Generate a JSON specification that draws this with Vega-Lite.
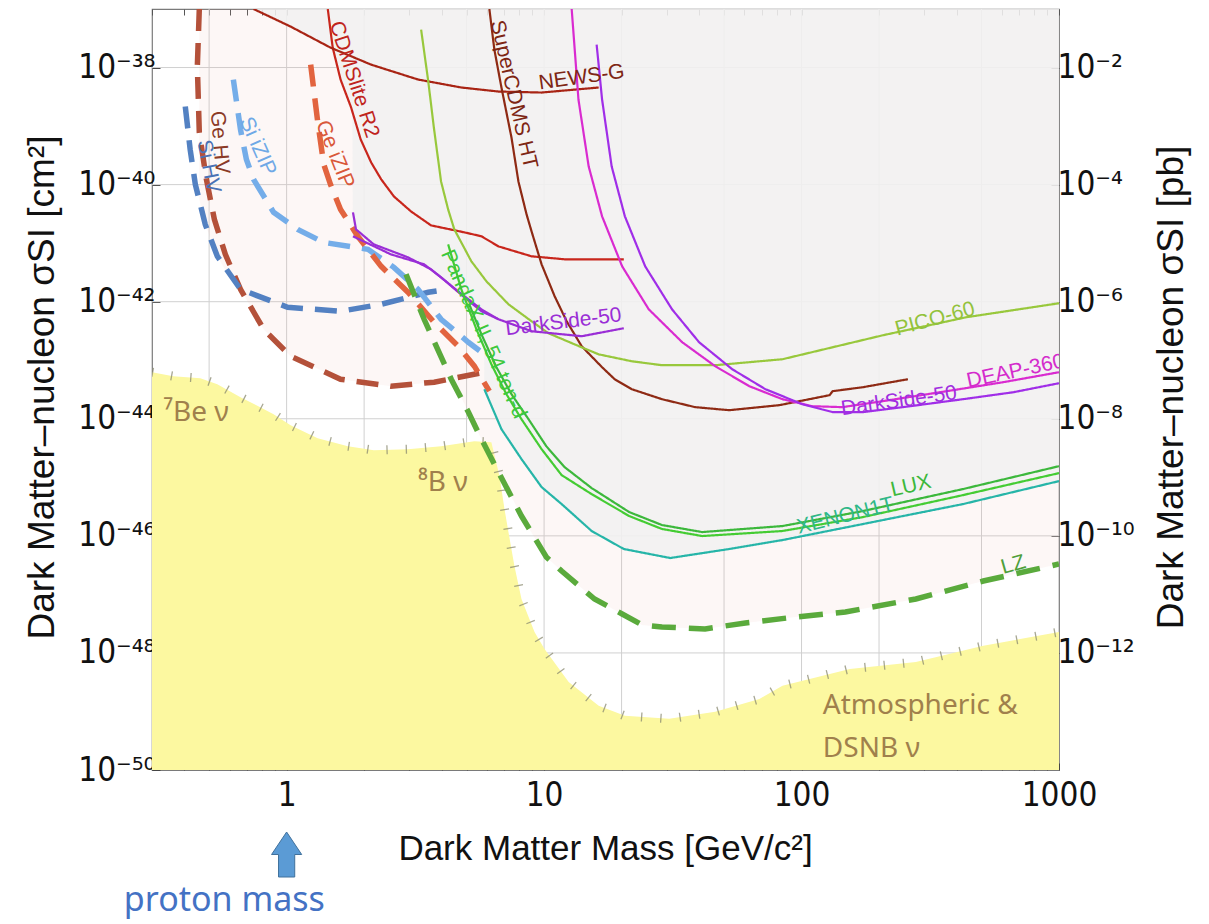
{
"$schema": "https://vega.github.io/schema/vega-lite/v6.json",
"width": 907, "height": 761,
"autosize": {"type": "none"},
"padding": {"left": 152, "top": 9, "right": 150, "bottom": 154},
"background": "white",
"config": {"view": {"stroke": "#7a7a7a", "strokeWidth": 1.2}, "axis": {"labelFont": "DejaVu Sans Condensed", "titleFont": "Liberation Sans", "titleFontWeight": "normal", "labelColor": "#111", "titleColor": "#111", "domain": false, "grid": false}},
"datasets": {
"curves": [
{"c":"GeHV","m":0.458,"s":1e-37},{"c":"GeHV","m":0.45,"s":1.04e-38},{"c":"GeHV","m":0.458,"s":7.78e-40},{"c":"GeHV","m":0.488,"s":1.23e-40},{"c":"GeHV","m":0.524,"s":2.55e-41},{"c":"GeHV","m":0.578,"s":6.44e-42},{"c":"GeHV","m":0.662,"s":1.63e-42},{"c":"GeHV","m":0.814,"s":3.38e-43},{"c":"GeHV","m":1.036,"s":1.17e-43},{"c":"GeHV","m":1.62,"s":4.74e-44},{"c":"GeHV","m":2.54,"s":3.6e-44},{"c":"GeHV","m":3.74,"s":4.22e-44},{"c":"GeHV","m":5.86,"s":6.24e-44},
{"c":"SiHV","m":0.404,"s":2.16e-39},{"c":"SiHV","m":0.422,"s":3.99e-40},{"c":"SiHV","m":0.442,"s":1.01e-40},{"c":"SiHV","m":0.483,"s":2.09e-41},{"c":"SiHV","m":0.538,"s":5.96e-42},{"c":"SiHV","m":0.662,"s":1.63e-42},{"c":"SiHV","m":1.009,"s":8.02e-43},{"c":"SiHV","m":1.62,"s":6.86e-43},{"c":"SiHV","m":2.33,"s":9.04e-43},{"c":"SiHV","m":3.55,"s":1.45e-42},{"c":"SiHV","m":3.98,"s":1.57e-42},
{"c":"SiiZIP","m":0.621,"s":6.24e-39},{"c":"SiiZIP","m":0.662,"s":8.75e-40},{"c":"SiiZIP","m":0.698,"s":2.69e-40},{"c":"SiiZIP","m":0.744,"s":1.23e-40},{"c":"SiiZIP","m":0.89,"s":3.36e-41},{"c":"SiiZIP","m":1.104,"s":1.72e-41},{"c":"SiiZIP","m":1.394,"s":1.03e-41},{"c":"SiiZIP","m":2.07,"s":7.84e-42},{"c":"SiiZIP","m":2.61,"s":3.86e-42},{"c":"SiiZIP","m":3.24,"s":1.63e-42},{"c":"SiiZIP","m":3.98,"s":5.01e-43},{"c":"SiiZIP","m":5.08,"s":2.03e-43},{"c":"SiiZIP","m":5.86,"s":1.26e-43},
{"c":"GeiZIP","m":1.24,"s":1.12e-38},{"c":"GeiZIP","m":1.32,"s":1.2e-39},{"c":"GeiZIP","m":1.394,"s":2.21e-40},{"c":"GeiZIP","m":1.48,"s":1.01e-40},{"c":"GeiZIP","m":1.62,"s":3.77e-41},{"c":"GeiZIP","m":1.89,"s":1.31e-41},{"c":"GeiZIP","m":2.33,"s":4.02e-42},{"c":"GeiZIP","m":2.96,"s":1.45e-42},{"c":"GeiZIP","m":3.74,"s":4.45e-43},{"c":"GeiZIP","m":4.64,"s":1.73e-43},{"c":"GeiZIP","m":5.36,"s":7.91e-44},{"c":"GeiZIP","m":6.13,"s":2.96e-44},
{"c":"LZ","m":2.91,"s":2.94e-42},{"c":"LZ","m":3.42,"s":5.01e-43},{"c":"LZ","m":4.36,"s":4.74e-44},{"c":"LZ","m":5.08,"s":1.3e-44},{"c":"LZ","m":5.71,"s":4.49e-45},{"c":"LZ","m":6.65,"s":1.23e-45},{"c":"LZ","m":8.17,"s":2.18e-46},{"c":"LZ","m":10.2,"s":4.35e-47},{"c":"LZ","m":11.7,"s":2.51e-47},{"c":"LZ","m":15.7,"s":8.34e-48},{"c":"LZ","m":20.1,"s":4.63e-48},{"c":"LZ","m":24,"s":3.01e-48},{"c":"LZ","m":28.7,"s":2.78e-48},{"c":"LZ","m":42.2,"s":2.57e-48},{"c":"LZ","m":60.5,"s":3.25e-48},{"c":"LZ","m":94.8,"s":4.11e-48},{"c":"LZ","m":148,"s":5.01e-48},{"c":"LZ","m":278,"s":8.34e-48},{"c":"LZ","m":508,"s":1.69e-47},{"c":"LZ","m":1000,"s":3.3e-47},
{"c":"CDMSlite","m":1.445,"s":1e-37},{"c":"CDMSlite","m":1.51,"s":2.19e-38},{"c":"CDMSlite","m":1.62,"s":6.24e-39},{"c":"CDMSlite","m":1.78,"s":2.08e-39},{"c":"CDMSlite","m":1.94,"s":5.9e-40},{"c":"CDMSlite","m":2.13,"s":2.39e-40},{"c":"CDMSlite","m":2.33,"s":1.23e-40},{"c":"CDMSlite","m":2.61,"s":6.29e-41},{"c":"CDMSlite","m":3.04,"s":3.49e-41},{"c":"CDMSlite","m":3.64,"s":2.01e-41},{"c":"CDMSlite","m":4.9,"s":1.53e-41},{"c":"CDMSlite","m":5.71,"s":1.31e-41},{"c":"CDMSlite","m":6.65,"s":8.81e-42},{"c":"CDMSlite","m":8.94,"s":5.96e-42},{"c":"CDMSlite","m":12.02,"s":5.3e-42},{"c":"CDMSlite","m":20.4,"s":5.3e-42},
{"c":"NEWSG","m":0.744,"s":1e-37},{"c":"NEWSG","m":1.036,"s":5.01e-38},{"c":"NEWSG","m":1.48,"s":2.19e-38},{"c":"NEWSG","m":2.13,"s":1.12e-38},{"c":"NEWSG","m":3.24,"s":6.24e-39},{"c":"NEWSG","m":4.77,"s":4.56e-39},{"c":"NEWSG","m":6.65,"s":3.89e-39},{"c":"NEWSG","m":9.78,"s":3.74e-39},{"c":"NEWSG","m":16.3,"s":4.56e-39},
{"c":"SCDMSHT","m":6.13,"s":1e-37},{"c":"SCDMSHT","m":6.41,"s":2.03e-38},{"c":"SCDMSHT","m":6.83,"s":4.56e-39},{"c":"SCDMSHT","m":7.47,"s":6.39e-40},{"c":"SCDMSHT","m":7.95,"s":1.13e-40},{"c":"SCDMSHT","m":8.55,"s":3.1e-41},{"c":"SCDMSHT","m":8.94,"s":1.59e-41},{"c":"SCDMSHT","m":9.78,"s":4.35e-42},{"c":"SCDMSHT","m":10.99,"s":1.24e-42},{"c":"SCDMSHT","m":12.24,"s":4.63e-43},{"c":"SCDMSHT","m":14,"s":1.73e-43},{"c":"SCDMSHT","m":16.8,"s":7.59e-44},{"c":"SCDMSHT","m":18.8,"s":4.74e-44},{"c":"SCDMSHT","m":21.9,"s":3.2e-44},{"c":"SCDMSHT","m":28.7,"s":2.16e-44},{"c":"SCDMSHT","m":38.6,"s":1.58e-44},{"c":"SCDMSHT","m":52.4,"s":1.4e-44},{"c":"SCDMSHT","m":82.1,"s":1.71e-44},{"c":"SCDMSHT","m":128.5,"s":2.53e-44},{"c":"SCDMSHT","m":132,"s":2.96e-44},{"c":"SCDMSHT","m":173,"s":3.46e-44},{"c":"SCDMSHT","m":259,"s":4.74e-44},
{"c":"PICO","m":3.33,"s":4.45e-38},{"c":"PICO","m":3.55,"s":5.77e-39},{"c":"PICO","m":3.74,"s":8.75e-40},{"c":"PICO","m":3.98,"s":1.13e-40},{"c":"PICO","m":4.24,"s":3.77e-41},{"c":"PICO","m":4.48,"s":1.72e-41},{"c":"PICO","m":5.22,"s":4.89e-42},{"c":"PICO","m":5.97,"s":2.23e-42},{"c":"PICO","m":7.27,"s":9.04e-43},{"c":"PICO","m":8.94,"s":4.63e-43},{"c":"PICO","m":10.4,"s":2.89e-43},{"c":"PICO","m":13.4,"s":1.8e-43},{"c":"PICO","m":16.3,"s":1.26e-43},{"c":"PICO","m":21.9,"s":9.61e-44},{"c":"PICO","m":28.7,"s":8.22e-44},{"c":"PICO","m":46.2,"s":8.22e-44},{"c":"PICO","m":84.3,"s":1.04e-43},{"c":"PICO","m":207,"s":2.67e-43},{"c":"PICO","m":436,"s":5.42e-43},{"c":"PICO","m":1000,"s":9.4e-43},
{"c":"DS50LA","m":1.81,"s":3.36e-41},{"c":"DS50LA","m":1.86,"s":1.72e-41},{"c":"DS50LA","m":2.18,"s":9.54e-42},{"c":"DS50LA","m":2.96,"s":5.73e-42},{"c":"DS50LA","m":3.64,"s":3.57e-42},{"c":"DS50LA","m":4.64,"s":1.5e-42},{"c":"DS50LA","m":5.71,"s":7.41e-43},{"c":"DS50LA","m":6.65,"s":5.01e-43},{"c":"DS50LA","m":8.94,"s":3.13e-43},{"c":"DS50LA","m":14,"s":2.57e-43},{"c":"DS50LA","m":20.4,"s":3.52e-43},
{"c":"DS50LB","m":1.81,"s":1.31e-41},{"c":"DS50LB","m":2.54,"s":6.44e-42},{"c":"DS50LB","m":3.42,"s":4.35e-42},{"c":"DS50LB","m":3.98,"s":2.61e-42},{"c":"DS50LB","m":4.9,"s":1.19e-42},{"c":"DS50LB","m":5.71,"s":6.86e-43},{"c":"DS50LB","m":6.65,"s":5.01e-43},
{"c":"DEAP","m":12.8,"s":1e-37},{"c":"DEAP","m":13.6,"s":2.84e-39},{"c":"DEAP","m":14.9,"s":2.05e-40},{"c":"DEAP","m":16.8,"s":2.87e-41},{"c":"DEAP","m":20.1,"s":4.02e-42},{"c":"DEAP","m":25.5,"s":7.41e-43},{"c":"DEAP","m":34.4,"s":2.03e-43},{"c":"DEAP","m":46.2,"s":7.91e-44},{"c":"DEAP","m":62.7,"s":3.6e-44},{"c":"DEAP","m":84.3,"s":2.16e-44},{"c":"DEAP","m":110,"s":1.64e-44},{"c":"DEAP","m":144,"s":1.58e-44},{"c":"DEAP","m":207,"s":2e-44},{"c":"DEAP","m":388,"s":3.08e-44},{"c":"DEAP","m":608,"s":4.22e-44},{"c":"DEAP","m":1000,"s":6.24e-44},
{"c":"DS50H","m":16,"s":2.47e-38},{"c":"DS50H","m":16.8,"s":2.84e-39},{"c":"DS50H","m":18.3,"s":2.05e-40},{"c":"DS50H","m":20.6,"s":2.87e-41},{"c":"DS50H","m":24.7,"s":4.02e-42},{"c":"DS50H","m":31.4,"s":7.41e-43},{"c":"DS50H","m":40,"s":2.03e-43},{"c":"DS50H","m":53.8,"s":7.02e-44},{"c":"DS50H","m":72.4,"s":3.2e-44},{"c":"DS50H","m":100.9,"s":1.77e-44},{"c":"DS50H","m":132,"s":1.3e-44},{"c":"DS50H","m":173,"s":1.3e-44},{"c":"DS50H","m":248,"s":1.58e-44},{"c":"DS50H","m":424,"s":2.16e-44},{"c":"DS50H","m":665,"s":2.84e-44},{"c":"DS50H","m":1000,"s":4.05e-44},
{"c":"PandaX","m":4.24,"s":9.54e-42},{"c":"PandaX","m":4.77,"s":1.63e-42},{"c":"PandaX","m":5.46,"s":3.38e-43},{"c":"PandaX","m":6.24,"s":8.55e-44},{"c":"PandaX","m":7.14,"s":2.63e-44},{"c":"PandaX","m":8.17,"s":9.84e-45},{"c":"PandaX","m":9.78,"s":3.03e-45},{"c":"PandaX","m":11.7,"s":1.09e-45},{"c":"PandaX","m":15.3,"s":5.16e-46},{"c":"PandaX","m":21.4,"s":2.18e-46},{"c":"PandaX","m":28.7,"s":1.31e-46},{"c":"PandaX","m":41.1,"s":9.93e-47},{"c":"PandaX","m":84.3,"s":1.21e-46},{"c":"PandaX","m":173,"s":2.09e-46},{"c":"PandaX","m":424,"s":4.97e-46},{"c":"PandaX","m":1000,"s":1.18e-45},
{"c":"LUX","m":5.12,"s":9.04e-43},{"c":"LUX","m":5.71,"s":2.78e-43},{"c":"LUX","m":6.53,"s":7.59e-44},{"c":"LUX","m":7.47,"s":2.63e-44},{"c":"LUX","m":8.7,"s":9.84e-45},{"c":"LUX","m":10.2,"s":3.4e-45},{"c":"LUX","m":12.02,"s":1.49e-45},{"c":"LUX","m":15.3,"s":6.55e-46},{"c":"LUX","m":21.4,"s":2.55e-46},{"c":"LUX","m":28.7,"s":1.53e-46},{"c":"LUX","m":41.1,"s":1.16e-46},{"c":"LUX","m":84.3,"s":1.47e-46},{"c":"LUX","m":173,"s":2.65e-46},{"c":"LUX","m":424,"s":6.3e-46},{"c":"LUX","m":1000,"s":1.55e-45},
{"c":"XENON1T","m":5.86,"s":3.2e-44},{"c":"XENON1T","m":6.83,"s":6.64e-45},{"c":"XENON1T","m":8.17,"s":2.05e-45},{"c":"XENON1T","m":9.78,"s":6.81e-46},{"c":"XENON1T","m":11.7,"s":3.49e-46},{"c":"XENON1T","m":15.3,"s":1.21e-46},{"c":"XENON1T","m":20.4,"s":5.96e-47},{"c":"XENON1T","m":30.9,"s":4.18e-47},{"c":"XENON1T","m":52.4,"s":5.96e-47},{"c":"XENON1T","m":84.3,"s":8.47e-47},{"c":"XENON1T","m":173,"s":1.59e-46},{"c":"XENON1T","m":424,"s":3.49e-46},{"c":"XENON1T","m":1000,"s":8.61e-46}
],
"floor": [{"m":0.3,"s":6.24e-44},{"m":0.363,"s":5.33e-44},{"m":0.462,"s":4.93e-44},{"m":0.538,"s":3.89e-44},{"m":0.662,"s":2.34e-44},{"m":0.89,"s":1.2e-44},{"m":1.036,"s":7.78e-45},{"m":1.32,"s":4.67e-45},{"m":1.73,"s":3.4e-45},{"m":2.18,"s":2.91e-45},{"m":2.96,"s":3.03e-45},{"m":3.98,"s":3.4e-45},{"m":5.36,"s":4.15e-45},{"m":6.24,"s":3.99e-45},{"m":6.71,"s":1.05e-45},{"m":7.02,"s":2.86e-46},{"m":7.27,"s":1.16e-46},{"m":7.67,"s":3.05e-47},{"m":8.17,"s":8.34e-48},{"m":9.18,"s":2.28e-48},{"m":10.04,"s":1.17e-48},{"m":12.46,"s":3.2e-49},{"m":16.3,"s":1.25e-49},{"m":20.6,"s":8.41e-50},{"m":30.6,"s":7.48e-50},{"m":46.2,"s":9.84e-50},{"m":68.6,"s":1.64e-49},{"m":84.3,"s":2.74e-49},{"m":154,"s":5.33e-49},{"m":278,"s":7.02e-49},{"m":508,"s":1.32e-48},{"m":1000,"s":2.28e-48}],
"pink": [{"m":0.458,"s":5.59e-41},{"m":0.483,"s":2.09e-41},{"m":0.538,"s":5.96e-42},{"m":0.594,"s":2.82e-42},{"m":0.662,"s":1.63e-42},{"m":0.814,"s":3.38e-43},{"m":1.036,"s":1.17e-43},{"m":1.62,"s":4.74e-44},{"m":2.54,"s":3.6e-44},{"m":3.74,"s":4.22e-44},{"m":4.4,"s":4.74e-44},{"m":5.08,"s":1.3e-44},{"m":5.71,"s":4.49e-45},{"m":6.65,"s":1.23e-45},{"m":8.17,"s":2.18e-46},{"m":10.2,"s":4.35e-47},{"m":11.7,"s":2.51e-47},{"m":15.7,"s":8.34e-48},{"m":20.1,"s":4.63e-48},{"m":24,"s":3.01e-48},{"m":28.7,"s":2.78e-48},{"m":42.2,"s":2.57e-48},{"m":60.5,"s":3.25e-48},{"m":94.8,"s":4.11e-48},{"m":148,"s":5.01e-48},{"m":278,"s":8.34e-48},{"m":508,"s":1.69e-47},{"m":1000,"s":3.3e-47}],
"gray": [{"m":0.744,"s":1e-37},{"m":1.036,"s":5.01e-38},{"m":1.48,"s":2.19e-38},{"m":1.62,"s":6.24e-39},{"m":1.78,"s":2.08e-39},{"m":1.8,"s":1.8e-39},{"m":1.81,"s":1.31e-41},{"m":2.54,"s":6.44e-42},{"m":3.42,"s":4.35e-42},{"m":3.98,"s":2.61e-42},{"m":4.9,"s":1.19e-42},{"m":5.46,"s":3.38e-43},{"m":5.85,"s":1.67e-43},{"m":5.86,"s":3.2e-44},{"m":6.83,"s":6.64e-45},{"m":8.17,"s":2.05e-45},{"m":9.78,"s":6.81e-46},{"m":11.7,"s":3.49e-46},{"m":15.3,"s":1.21e-46},{"m":20.4,"s":5.96e-47},{"m":30.9,"s":4.18e-47},{"m":52.4,"s":5.96e-47},{"m":84.3,"s":8.47e-47},{"m":173,"s":1.59e-46},{"m":424,"s":3.49e-46},{"m":1000,"s":8.61e-46}]
},
"layer": [
{"layer": [
 {"data": {"values": [{"m":0.5},{"m":1},{"m":2},{"m":5},{"m":10},{"m":20},{"m":50},{"m":100},{"m":200},{"m":500}]},
  "mark": {"type": "rule", "color": "#d0d0d0", "strokeWidth": 1},
  "encoding": {"x": {"field": "m", "type": "quantitative"}}},
 {"data": {"values": [{"s":1e-48},{"s":1e-46},{"s":1e-44},{"s":1e-42},{"s":1e-40},{"s":1e-38}]},
  "mark": {"type": "rule", "color": "#d0d0d0", "strokeWidth": 1},
  "encoding": {"y": {"field": "s", "type": "quantitative"}}},
 {"data": {"name": "pink"}, "mark": {"type": "area", "color": "#e9b4ab", "opacity": 0.1, "clip": true},
  "encoding": {"x": {"field": "m", "type": "quantitative"}, "y": {"field": "s", "type": "quantitative"}, "y2": {"datum": 1e-37}}},
 {"data": {"name": "gray"}, "mark": {"type": "area", "color": "#f1f1f1", "opacity": 0.88, "clip": true},
  "encoding": {"x": {"field": "m", "type": "quantitative"}, "y": {"field": "s", "type": "quantitative"}, "y2": {"datum": 1e-37}}},
 {"data": {"name": "floor"}, "mark": {"type": "area", "color": "#fcf8a0", "opacity": 1, "clip": true},
  "encoding": {
   "x": {"field": "m", "type": "quantitative", "scale": {"type": "log", "domain": [0.3, 1000], "nice": false},
    "axis": {"orient": "bottom", "values": [0.3,0.4,0.5,0.6,0.7,0.8,0.9,1,2,3,4,5,6,7,8,9,10,20,30,40,50,60,70,80,90,100,200,300,400,500,600,700,800,900,1000],
     "labelExpr": "indexof([1,10,100,1000], datum.value) >= 0 ? format(datum.value, 'd') : ''",
     "labelFlush": false, "labelOverlap": false, "labelFontSize": 33, "labelPadding": 16, "tickSize": -7, "tickColor": "#444",
     "title": "Dark Matter Mass [GeV/c²]", "titleFontSize": 35, "titleX": 453, "titleY": 89, "titleBaseline": "alphabetic", "titleAlign": "center"}},
   "y": {"field": "s", "type": "quantitative", "scale": {"type": "log", "domain": [1e-50, 1e-37], "nice": false},
    "axis": {"orient": "left", "values": [1e-50,1e-48,1e-46,1e-44,1e-42,1e-40,1e-38],
     "labelExpr": "'10⁻' + substring('⁰¹²³⁴⁵⁶⁷⁸⁹', floor(-round(log(datum.value)/LN10)/10), floor(-round(log(datum.value)/LN10)/10)+1) + substring('⁰¹²³⁴⁵⁶⁷⁸⁹', (-round(log(datum.value)/LN10))%10, (-round(log(datum.value)/LN10))%10+1)",
     "labelFontSize": 33, "labelPadding": 5, "tickSize": -8, "tickColor": "#444", "labelOverlap": false, "labelFlush": false,
     "title": "Dark Matter–nucleon σSI [cm²]", "titleFontSize": 37, "titleAngle": -90, "titleX": -99, "titleY": 378, "titleBaseline": "alphabetic", "titleAlign": "center"}},
   "y2": {"datum": 1e-50}}},
 {"data": {"name": "floor"}, "mark": {"type": "line", "color": "#8a8a70", "strokeWidth": 9, "strokeDash": [1.3, 18], "opacity": 0.75, "clip": true},
  "encoding": {"x": {"field": "m", "type": "quantitative"}, "y": {"field": "s", "type": "quantitative"}}},
 {"data": {"name": "curves"}, "mark": {"type": "line", "clip": true},
  "encoding": {"x": {"field": "m", "type": "quantitative"}, "y": {"field": "s", "type": "quantitative"},
   "color": {"field": "c", "type": "nominal", "legend": null, "scale": {"domain": ["GeHV","SiHV","SiiZIP","GeiZIP","LZ","CDMSlite","NEWSG","SCDMSHT","PICO","DS50LA","DS50LB","DEAP","DS50H","PandaX","LUX","XENON1T"], "range": ["#b4513a","#5381c2","#74ade9","#e2643f","#5aaa3c","#c8261c","#a82414","#8e2a14","#98c83c","#9a2ed6","#9a2ed6","#d92bd0","#a02ee8","#44cc33","#3cb83c","#26b5a8"]}},
   "strokeDash": {"field": "c", "type": "nominal", "legend": null, "scale": {"domain": ["GeHV","SiHV","SiiZIP","GeiZIP","LZ","CDMSlite","NEWSG","SCDMSHT","PICO","DS50LA","DS50LB","DEAP","DS50H","PandaX","LUX","XENON1T"], "range": [[22,12],[22,12],[22,12],[22,12],[24,13],[1,0],[1,0],[1,0],[1,0],[1,0],[1,0],[1,0],[1,0],[1,0],[1,0],[1,0]]}},
   "strokeWidth": {"condition": {"test": "indexof(['GeHV','SiHV','SiiZIP','GeiZIP','LZ'], datum.c) >= 0", "value": 5.5}, "value": 2.2},
   "order": {"value": null}}},
 {"data": {"values": [{"m":0.548,"s":5.25e-40,"t":"Ge HV"}]}, "mark": {"type": "text", "angle": 85, "color": "#8b3a26", "font": "Liberation Sans", "fontSize": 21, "align": "center", "baseline": "middle"}, "encoding": {"x": {"field": "m", "type": "quantitative"}, "y": {"field": "s", "type": "quantitative"}, "text": {"field": "t"}}},
 {"data": {"values": [{"m":0.497,"s":2.05e-40,"t":"Si HV"}]}, "mark": {"type": "text", "angle": 79, "color": "#4a72b5", "font": "Liberation Sans", "fontSize": 21, "align": "center", "baseline": "middle"}, "encoding": {"x": {"field": "m", "type": "quantitative"}, "y": {"field": "s", "type": "quantitative"}, "text": {"field": "t"}}},
 {"data": {"values": [{"m":0.771,"s":4.49e-40,"t":"Si iZIP"}]}, "mark": {"type": "text", "angle": 66, "color": "#6fa8e6", "font": "Liberation Sans", "fontSize": 21, "align": "center", "baseline": "middle"}, "encoding": {"x": {"field": "m", "type": "quantitative"}, "y": {"field": "s", "type": "quantitative"}, "text": {"field": "t"}}},
 {"data": {"values": [{"m":1.538,"s":3.28e-40,"t":"Ge iZIP"}]}, "mark": {"type": "text", "angle": 68, "color": "#d9583a", "font": "Liberation Sans", "fontSize": 21, "align": "center", "baseline": "middle"}, "encoding": {"x": {"field": "m", "type": "quantitative"}, "y": {"field": "s", "type": "quantitative"}, "text": {"field": "t"}}},
 {"data": {"values": [{"m":1.825,"s":6.24e-39,"t":"CDMSlite R2"}]}, "mark": {"type": "text", "angle": 72, "color": "#c0241c", "font": "Liberation Sans", "fontSize": 21, "align": "center", "baseline": "middle"}, "encoding": {"x": {"field": "m", "type": "quantitative"}, "y": {"field": "s", "type": "quantitative"}, "text": {"field": "t"}}},
 {"data": {"values": [{"m":7.6,"s":3.46e-39,"t":"SuperCDMS HT"}]}, "mark": {"type": "text", "angle": 77, "color": "#7e2614", "font": "Liberation Sans", "fontSize": 21, "align": "center", "baseline": "middle"}, "encoding": {"x": {"field": "m", "type": "quantitative"}, "y": {"field": "s", "type": "quantitative"}, "text": {"field": "t"}}},
 {"data": {"values": [{"m":14,"s":6.75e-39,"t":"NEWS-G"}]}, "mark": {"type": "text", "angle": -8, "color": "#7e2614", "font": "Liberation Sans", "fontSize": 21, "align": "center", "baseline": "middle"}, "encoding": {"x": {"field": "m", "type": "quantitative"}, "y": {"field": "s", "type": "quantitative"}, "text": {"field": "t"}}},
 {"data": {"values": [{"m":330,"s":5.01e-43,"t":"PICO-60"}]}, "mark": {"type": "text", "angle": -15, "color": "#92c23c", "font": "Liberation Sans", "fontSize": 21, "align": "center", "baseline": "middle"}, "encoding": {"x": {"field": "m", "type": "quantitative"}, "y": {"field": "s", "type": "quantitative"}, "text": {"field": "t"}}},
 {"data": {"values": [{"m":11.9,"s":4.45e-43,"t":"DarkSide-50"}]}, "mark": {"type": "text", "angle": -7, "color": "#9a2ed6", "font": "Liberation Sans", "fontSize": 21, "align": "center", "baseline": "middle"}, "encoding": {"x": {"field": "m", "type": "quantitative"}, "y": {"field": "s", "type": "quantitative"}, "text": {"field": "t"}}},
 {"data": {"values": [{"m":239,"s":2.0e-44,"t":"DarkSide-50"}]}, "mark": {"type": "text", "angle": -8, "color": "#a02ee0", "font": "Liberation Sans", "fontSize": 21, "align": "center", "baseline": "middle"}, "encoding": {"x": {"field": "m", "type": "quantitative"}, "y": {"field": "s", "type": "quantitative"}, "text": {"field": "t"}}},
 {"data": {"values": [{"m":714,"s":6.75e-44,"t":"DEAP-3600"}]}, "mark": {"type": "text", "angle": -12, "color": "#d42bcc", "font": "Liberation Sans", "fontSize": 21, "align": "center", "baseline": "middle", "clip": true}, "encoding": {"x": {"field": "m", "type": "quantitative"}, "y": {"field": "s", "type": "quantitative"}, "text": {"field": "t"}}},
 {"data": {"values": [{"m":5.81,"s":2.78e-43,"t":"PandaX-II, 54 ton-d"}]}, "mark": {"type": "text", "angle": 66, "color": "#3cc83c", "font": "Liberation Sans", "fontSize": 21, "align": "center", "baseline": "middle"}, "encoding": {"x": {"field": "m", "type": "quantitative"}, "y": {"field": "s", "type": "quantitative"}, "text": {"field": "t"}}},
 {"data": {"values": [{"m":266,"s":7.08e-46,"t":"LUX"}]}, "mark": {"type": "text", "angle": -13, "color": "#3cb83c", "font": "Liberation Sans", "fontSize": 21, "align": "center", "baseline": "middle"}, "encoding": {"x": {"field": "m", "type": "quantitative"}, "y": {"field": "s", "type": "quantitative"}, "text": {"field": "t"}}},
 {"data": {"values": [{"m":148,"s":2.18e-46,"t":"XENON1T"}]}, "mark": {"type": "text", "angle": -14, "color": "#2fb888", "font": "Liberation Sans", "fontSize": 21, "align": "center", "baseline": "middle"}, "encoding": {"x": {"field": "m", "type": "quantitative"}, "y": {"field": "s", "type": "quantitative"}, "text": {"field": "t"}}},
 {"data": {"values": [{"m":665,"s":3.18e-47,"t":"LZ"}]}, "mark": {"type": "text", "angle": -16, "color": "#4f9f3a", "font": "Liberation Sans", "fontSize": 21, "align": "center", "baseline": "middle"}, "encoding": {"x": {"field": "m", "type": "quantitative"}, "y": {"field": "s", "type": "quantitative"}, "text": {"field": "t"}}},
 {"data": {"values": [{"m":0.3316,"s":9.1e-45,"t":"⁷Be ν"},{"m":3.24,"s":5.82e-46,"t":"⁸B ν"},{"m":121,"s":9.1e-50,"t":"Atmospheric &"},{"m":121,"s":1.68e-50,"t":"DSNB ν"}]}, "mark": {"type": "text", "color": "#a0804c", "font": "Noto Sans", "fontSize": 28, "align": "left", "baseline": "alphabetic"}, "encoding": {"x": {"field": "m", "type": "quantitative"}, "y": {"field": "s", "type": "quantitative"}, "text": {"field": "t"}}},
 {"data": {"values": [{"m":1,"s":3.6e-52}]}, "mark": {"type": "point", "shape": "M0,-1L0.67,0L0.36,0L0.36,1L-0.36,1L-0.36,0L-0.67,0Z", "filled": true, "size": 2025, "color": "#5b9bd5", "stroke": "#41719c", "strokeWidth": 1, "opacity": 1}, "encoding": {"x": {"field": "m", "type": "quantitative"}, "y": {"field": "s", "type": "quantitative"}}},
 {"data": {"values": [{"m":0.573,"s":3.95e-53,"t":"proton mass"}]}, "mark": {"type": "text", "color": "#4472c4", "font": "Noto Sans", "fontSize": 34, "align": "center", "baseline": "alphabetic"}, "encoding": {"x": {"field": "m", "type": "quantitative"}, "y": {"field": "s", "type": "quantitative"}, "text": {"field": "t"}}}
]},
{"data": {"values": [{"m": 1, "s": 1e-40}]},
 "mark": {"type": "point", "opacity": 0},
 "encoding": {
  "x": {"field": "m", "type": "quantitative", "scale": {"type": "log", "domain": [0.3, 1000], "nice": false},
   "axis": {"orient": "top", "values": [0.3,0.4,0.5,0.6,0.7,0.8,0.9,1,2,3,4,5,6,7,8,9,10,20,30,40,50,60,70,80,90,100,200,300,400,500,600,700,800,900,1000], "labels": false, "tickSize": -6, "tickColor": "#555", "title": null}},
  "y": {"field": "s", "type": "quantitative", "scale": {"type": "log", "domain": [1e-50, 1e-37], "nice": false},
   "axis": {"orient": "right", "values": [1e-48,1e-46,1e-44,1e-42,1e-40,1e-38],
    "labelExpr": "'10⁻' + ((-round(log(datum.value)/LN10)-36) >= 10 ? substring('⁰¹²³⁴⁵⁶⁷⁸⁹', floor((-round(log(datum.value)/LN10)-36)/10), floor((-round(log(datum.value)/LN10)-36)/10)+1) : '') + substring('⁰¹²³⁴⁵⁶⁷⁸⁹', (-round(log(datum.value)/LN10)-36)%10, (-round(log(datum.value)/LN10)-36)%10+1)",
    "labelFontSize": 33, "labelPadding": 6, "tickSize": -8, "tickColor": "#444", "labelOverlap": false, "labelFlush": false,
    "title": "Dark Matter–nucleon σSI [pb]", "titleFontSize": 37, "titleAngle": -90, "titleX": 123, "titleY": 378, "titleBaseline": "alphabetic", "titleAlign": "center"}}}}
],
"resolve": {"scale": {"y": "independent"}, "axis": {"x": "independent", "y": "independent"}}
}
